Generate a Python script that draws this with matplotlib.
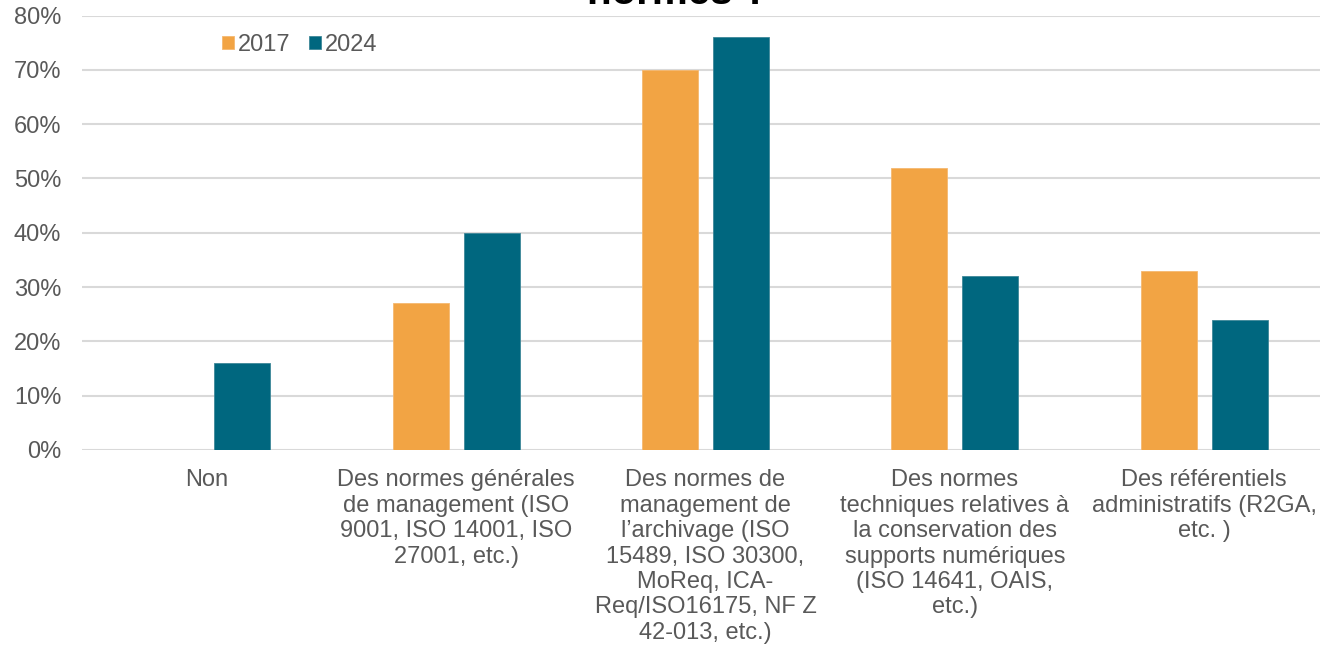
import matplotlib
matplotlib.use('Agg')
import matplotlib.pyplot as plt
import matplotlib.ticker as mtick
import numpy as np

# données (%)
categories = [
    'Non',
    'Des normes générales\nde management (ISO\n9001, ISO 14001, ISO\n27001, etc.)',
    'Des normes de\nmanagement de\nl’archivage (ISO\n15489, ISO 30300,\nMoReq, ICA-\nReq/ISO16175, NF Z\n42-013, etc.)',
    'Des normes\ntechniques relatives à\nla conservation des\nsupports numériques\n(ISO 14641, OAIS,\netc.)',
    'Des référentiels\nadministratifs (R2GA,\netc. )',
]
val_2017 = [0, 27, 70, 52, 33]
val_2024 = [16, 40, 76, 32, 24]
series_names = ['2017', '2024']

plt.rcParams['font.family'] = ['Liberation Sans', 'DejaVu Sans']
grey = '#595959'

fig = plt.figure(figsize=(13.2, 6.59), dpi=100, facecolor='white')
ax = fig.add_axes([82 / 1320, 209 / 659, 1247 / 1320, 434.5 / 659])

x = np.arange(len(categories))
w = 0.225
off = 0.1425
ax.bar(x - off, val_2017, width=w, color='#F2A444', edgecolor='#F5B870', linewidth=0.6,
       label=series_names[0], zorder=3)
ax.bar(x + off, val_2024, width=w, color='#00677F', edgecolor='#3E8798', linewidth=0.6,
       label=series_names[1], zorder=3)

ax.set_xlim(-0.5, len(categories) - 0.5)
ax.set_ylim(0, 80)
ax.set_yticks(range(0, 81, 10))
ax.yaxis.set_major_formatter(mtick.FormatStrFormatter('%d%%'))
ax.grid(axis='y', color='#D9D9D9', linewidth=1.5, zorder=0)
for s in ax.spines.values():
    s.set_visible(False)
ax.tick_params(axis='both', length=0, labelsize=17, colors=grey)
ax.tick_params(axis='y', pad=15)
ax.set_xticks(x)
ax.set_xticklabels(categories, linespacing=1.2)
ax.tick_params(axis='x', pad=14)

ax.legend(loc='upper left', bbox_to_anchor=(0.105, 0.98), ncol=2, frameon=False,
          fontsize=17, labelcolor=grey, handlelength=0.5, handleheight=0.5,
          handletextpad=0.15, columnspacing=0.8, borderaxespad=0)

# titre coupé en haut de l'image
fig.text(678 / 1320, 1 - 4 / 659, 'normes ?', ha='center', va='baseline',
         fontsize=29, fontweight='bold', color='black')

fig.savefig('out.png', dpi=100, facecolor='white')
